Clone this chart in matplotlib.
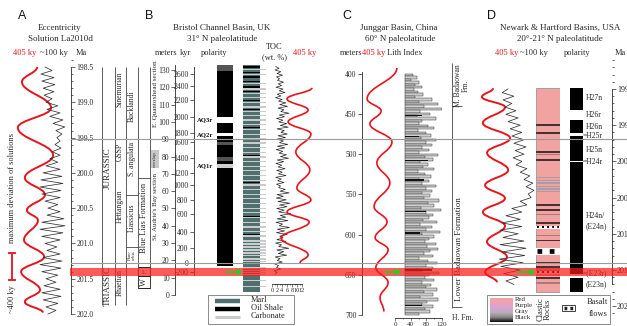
import matplotlib
matplotlib.use("Agg")
import matplotlib.pyplot as plt
import numpy as np
from matplotlib.path import Path
from matplotlib.patches import PathPatch, Rectangle
from matplotlib.colors import LinearSegmentedColormap
from matplotlib.ticker import MultipleLocator, FormatStrFormatter

W, H = 627, 326
SERIF = "Liberation Serif"
SANS = "Liberation Sans"
INK = "#2a2a2a"
RED = "#e8141c"
MARL = "#50706f"
CARB = "#c9cccc"
GREEN = "#1ed21e"

plt.rcParams["font.family"] = SERIF

# px -> value references for each panel's vertical scale
SCALE_A = (67, 198.5, 314, 202.0)
SCALE_B = (295, 0.0, 70, 130.0)
SCALE_C = (74, 400.0, 315, 700.0)
SCALE_D = (89, 199.0, 270, 201.5)

# ---------------- A: La2010d eccentricity ----------------
a_red_age = [198.50, 198.71, 199.08, 199.36, 199.75, 200.07, 200.31, 200.53,
             200.67, 200.95, 201.19, 201.40, 201.66, 201.83, 201.98]
a_red_ecc = [54, 17, 88, 7, 93, 24, 73, 29, 56, 22, 71, 15, 61, 24, 68]
a_blk_age = np.round(np.arange(198.5, 202.001, 0.05), 2)
a_blk_ecc = [22, 44, 9, 50, 12, 53, 16, 50, 19, 44, 25,
             62, 28, 69, 37, 78, 47, 84, 56, 75, 59,
             69, 53, 72, 44, 69, 37, 62, 25, 69, 16,
             75, 9, 78, 6, 72, 12, 69, 22, 62, 31,
             69, 28, 81, 12, 84, 6, 78, 12, 69, 22,
             59, 28, 69, 16, 75, 6, 72, 12, 62, 25,
             56, 19, 69, 12, 72, 16, 62, 25, 56, 31]

# ---------------- B: Bristol Channel Basin ----------------
b_kyr_ticks = [-200, 0, 200, 400, 600, 800, 1000, 1200, 1400, 1600, 1800,
               2000, 2200, 2400, 2600]
b_kyr_depth = [13.3, 18.5, 27.2, 36.4, 46.8, 54.9, 63.6, 70.5, 79.2, 88.4,
               93.6, 102.9, 112.7, 120.8, 127.7]
b_pol_top, b_pol_base = 133.0, 16.8
b_band_top = [133.0, 102.9, 93.6, 88.4, 79.8, 75.7]
b_band_base = [129.2, 99.4, 91.9, 86.7, 77.5, 73.4]
b_band_col = ["#555555", "white", "white", "#555555", "#555555", "#cfcfcf"]
b_aq_lbl = ["AQ3r", "AQ2r", "AQ1r"]
b_aq_depth = [101.2, 92.8, 74.6]
b_lith_top, b_lith_base = 133.0, 1.7
b_carb_m = [130.5, 127.5, 124.8, 122.0, 119.0, 116.5, 114.0, 111.2, 108.6,
            105.8, 103.5, 101.0, 98.3, 95.6, 93.0, 90.2, 87.8, 85.1, 82.5,
            79.6, 77.0, 74.3, 71.8, 69.0, 66.3, 63.5, 61.0, 58.2, 55.6, 52.9,
            50.1, 47.5, 44.8, 42.0, 39.3, 36.5, 34.0, 31.2, 29.5, 27.8, 26.0,
            24.4, 22.8, 21.0, 19.4, 15.5, 14.2, 13.0, 11.8, 8.5, 5.0]
b_carb_t = [0.6, 0.8, 0.5, 0.7, 0.9, 0.6, 0.8, 0.5, 0.9, 0.7, 0.6, 1.0, 0.7,
            0.8, 0.6, 0.9, 0.7, 0.8, 0.6, 1.0, 0.7, 0.9, 0.6, 0.8, 0.7, 0.9,
            0.6, 0.8, 0.7, 0.6, 0.9, 0.7, 0.8, 0.6, 0.9, 0.7, 0.8, 1.1, 1.0,
            1.2, 1.0, 1.1, 0.9, 1.2, 1.0, 0.8, 0.8, 0.8, 0.8, 0.7, 0.7]
b_shale_m = [131.8, 128.6, 126.0, 123.2, 120.2, 117.4, 112.5, 107.2, 97.0,
             89.0, 80.5, 65.0, 45.5, 34.8]
b_shale_t = [0.8, 0.7, 0.9, 0.6, 0.8, 0.6, 0.5, 0.6, 0.5, 0.5, 0.4, 0.5, 0.4, 0.4]
b_toc_depth = np.arange(132, 11, -1)
b_toc = [1.5, 2.8, 1.2, 3.5, 2.0, 4.2, 1.8, 3.0, 2.2, 4.6,
         2.5, 3.8, 1.6, 4.4, 2.9, 5.2, 2.1, 3.6, 1.4, 4.0,
         2.6, 5.5, 3.1, 6.2, 2.4, 4.8, 3.5, 6.8, 2.9, 5.0,
         1.8, 4.4, 2.7, 5.9, 3.3, 6.5, 2.0, 4.9, 3.6, 6.1,
         2.4, 5.4, 1.9, 4.6, 3.0, 6.3, 2.2, 5.1, 1.7, 4.3,
         2.8, 5.8, 3.4, 6.6, 2.1, 4.7, 1.6, 3.9, 2.5, 5.2,
         1.9, 4.1, 2.6, 5.6, 1.5, 3.7, 2.3, 4.8, 1.8, 3.4,
         2.7, 5.3, 3.2, 6.9, 2.0, 4.5, 1.7, 5.7, 2.4, 7.2,
         3.0, 6.0, 1.9, 4.9, 2.6, 7.5, 3.3, 5.5, 2.1, 6.4,
         1.6, 4.2, 2.9, 7.0, 2.2, 5.0, 1.8, 6.1, 3.1, 4.4,
         2.0, 5.6, 1.4, 3.8, 2.7, 6.7, 1.9, 4.7, 2.5, 5.9,
         1.3, 3.2, 2.1, 4.1, 1.0, 2.6, 1.8, 3.5, 0.9, 2.0,
         1.2]
b_red_m = [119.7, 113.3, 106.9, 100.0, 93.1, 82.7, 72.3, 61.8, 54.9, 48.0,
           42.2, 32.9, 23.1, 18.5]
b_red_val = [97, 26, 86, 29, 94, 51, 91, 54, 94, 26, 89, 9, 86, 63]

# ---------------- C: Junggar Basin ----------------
c_red_m = [392.5, 431.1, 446.0, 462.1, 484.5, 510.6, 535.4, 565.2, 583.9,
           603.7, 618.6, 641.0, 659.6, 678.3, 695.7]
c_red_val = [91, 6, 46, 14, 77, 34, 71, 26, 63, 29, 66, 31, 66, 43, 54]
c_lith_top = np.arange(400, 700, 3)
c_lith_idx = [45, 55, 40, 62, 50, 68, 48, 58, 72, 52,
              95, 60, 110, 75, 120, 65, 90, 55, 105, 70,
              62, 85, 100, 58, 78, 92, 66, 104, 80, 95,
              70, 88, 60, 110, 76, 98, 64, 84, 72, 100,
              58, 76, 92, 62, 86, 70, 105, 80, 95, 68,
              90, 74, 112, 84, 100, 66, 118, 78, 96, 88,
              72, 108, 64, 94, 80, 115, 70, 100, 86, 76,
              104, 82, 110, 90, 74, 98, 62, 84, 106, 78,
              96, 70, 112, 88, 76, 100, 68, 92, 80, 108,
              74, 96, 64, 110, 82, 70, 98, 76, 90, 60]
c_dark_m = [452, 478, 508, 532, 571, 598, 644, 688]
c_dark_idx = [70, 60, 85, 75, 80, 65, 95, 70]

# ---------------- D: Newark & Hartford ----------------
d_red_age = [198.99, 199.11, 199.25, 199.47, 199.68, 199.88, 200.12, 200.33,
             200.51, 200.70, 200.89, 201.11, 201.32, 201.53, 201.67]
d_red_val = [41, 6, 78, 9, 94, 22, 88, 16, 78, 9, 78, 22, 84, 16, 53]
d_blk_age = np.round(np.arange(199.0, 201.701, 0.05), 2)
d_blk_val = [31, 17, 45, 19, 40, 24,
             50, 26, 55, 31, 60,
             36, 64, 40, 69, 45,
             74, 48, 69, 43, 64,
             50, 76, 60, 83, 69,
             90, 74, 93, 79, 86,
             60, 76, 40, 64, 26,
             60, 17, 64, 12, 55,
             19, 69, 12, 74, 17,
             71, 10, 67, 14, 60,
             21, 55, 26, 45]
d_col_top, d_col_base = 198.99, 201.80
d_bed_ma = [199.50, 199.61, 199.70, 199.87, 199.91, 199.98, 200.22, 200.26,
            200.30, 200.34, 200.38, 200.42, 200.60, 200.67, 200.74, 200.85,
            201.02, 201.09, 201.40, 201.46, 201.51, 201.61, 201.68]
d_bed_th = [0.021, 0.021, 0.014, 0.028, 0.014, 0.028, 0.014, 0.014, 0.021,
            0.014, 0.021, 0.014, 0.021, 0.021, 0.014, 0.021, 0.014, 0.021,
            0.028, 0.021, 0.055, 0.021, 0.021]
d_bed_kind = ["k", "k", "m", "k", "m", "k", "g", "g", "g", "g", "g", "g",
              "k", "k", "m", "k", "m", "k", "k", "k", "g", "k", "m"]
d_bas_ma = [200.91, 201.24, 201.53]
d_bas_th = [0.04, 0.097, 0.04]
d_rev_top = [199.29, 199.61, 199.99, 201.555]
d_rev_base = [199.43, 199.65, 200.015, 201.61]
d_pol_lbl = ["H27n", "H26r", "H26n", "=H25r", "H25n", "=H24r", "H24n/",
             "(E24n)", "=(E23r)", "(E23n)"]
d_pol_lbl_ma = [199.12, 199.36, 199.52, 199.65, 199.84, 200.01, 200.75,
                200.89, 201.54, 201.69]
BED_COL = {"k": "#4a3030", "m": "#b07878", "g": "#a99ba7"}

fig = plt.figure(figsize=(W / 100, H / 100), dpi=100)


def strip(x0, x1, y0, y1, scale, xlim=(0, 1), off=True):
    ax = fig.add_axes([x0 / W, 1 - y1 / H, (x1 - x0) / W, (y1 - y0) / H])
    pa, va, pb, vb = scale
    f = lambda p: va + (p - pa) * (vb - va) / (pb - pa)
    ax.set_ylim(f(y1), f(y0))
    ax.set_xlim(*xlim)
    if off:
        ax.axis("off")
    else:
        ax.set_facecolor("none")
        for s in ax.spines.values():
            s.set_visible(False)
        ax.set_xticks([])
        ax.set_yticks([])
    return ax


def scale_axis(x, y0, y1, scale, side, bounds):
    if side == "left":
        ax = strip(x, x + 2, y0, y1, scale, off=False)
    else:
        ax = strip(x - 2, x, y0, y1, scale, off=False)
        ax.yaxis.tick_right()
    sp = ax.spines[side]
    sp.set_visible(True)
    sp.set_bounds(*bounds)
    sp.set_linewidth(0.6)
    sp.set_color(INK)
    ax.tick_params(axis="y", which="both", colors=INK, width=0.5, labelsize=5.5, pad=1)
    ax.tick_params(axis="y", which="major", length=3)
    ax.tick_params(axis="y", which="minor", length=1.5)
    return ax


def wave(ax, val, pos, color, lw):
    # smooth curve through the extrema
    verts = [(val[0], pos[0])]
    codes = [Path.MOVETO]
    for i in range(1, len(val)):
        d = (pos[i] - pos[i - 1]) * 0.4
        verts += [(val[i - 1], pos[i - 1] + d), (val[i], pos[i] - d), (val[i], pos[i])]
        codes += [Path.CURVE4] * 3
    ax.add_patch(PathPatch(Path(verts, codes), fill=False, ec=color, lw=lw, clip_on=False))


# canvas for the text and the stratigraphic tables
cv = fig.add_axes([0, 0, 1, 1])
cv.set_xlim(0, W)
cv.set_ylim(H, 0)
cv.axis("off")


def txt(x, y, s, size=6.0, color=INK, rot=0, family=SERIF, ha="center", **kw):
    cv.text(x, y, s, fontsize=size, color=color, rotation=rot, ha=ha, va="center",
            family=family, rotation_mode="anchor", **kw)


def line(xs, ys, color="#444", lw=0.6):
    cv.plot(xs, ys, color=color, lw=lw, solid_capstyle="butt")


# panel letters and titles
for x, s in [(22, "A"), (149, "B"), (347, "C"), (491, "D")]:
    txt(x, 16, s, size=9, color="#111", family=SANS)
txt(60, 28, "Eccentricity", 6.5)
txt(60, 39, "Solution La2010d", 6.5)
txt(25, 53, "405 ky", 6, RED)
txt(54, 53, "~100 ky", 6)
txt(81, 53, "Ma", 6)

txt(222, 28, "Bristol Channel Basin, UK", 6.5)
txt(222, 39, "31° N paleolatitude", 6.5)
txt(166, 53, "meters", 6)
txt(186, 53, "kyr", 6)
txt(214, 53, "polarity", 6)
txt(274, 47, "TOC", 6)
txt(275, 57, "(wt. %)", 6)
txt(305, 53, "405 ky", 6, RED)

txt(399, 28, "Junggar Basin, China", 6.5)
txt(400, 39, "60° N paleolatitude", 6.5)
txt(351, 53, "meters", 6)
txt(374, 53, "405 ky", 6, RED)
txt(405, 53, "Lith Index", 6)

txt(560, 28, "Newark & Hartford Basins, USA", 6.5)
txt(560, 39, "20°-21° N paleolatitude", 6.5)
txt(507, 53, "405 ky", 6, RED)
txt(534, 53, "~100 ky", 6)
txt(577, 53, "polarity", 6)
txt(620, 53, "Ma", 6)

# A: side notes
txt(12, 188, "maximum deviation of solutions", 6, rot=90)
line([12, 12], [253, 280], RED, 1.3)
line([8, 16], [253, 253], RED, 1.3)
line([8, 16], [280, 280], RED, 1.3)
txt(12, 299, "~400 ky", 6, rot=90)

# A: chronostratigraphic table
for x, y1 in [(102, 305), (115, 305), (126, 305), (138, 288), (150, 288)]:
    line([x, x], [67, y1])
line([126, 138], [195, 195])
line([126, 138], [247, 247])
line([138, 150], [178, 178])
line([102, 150], [263, 263])
cv.add_patch(Rectangle((138, 267), 12, 9, fill=False, ec="#222", lw=0.7))
cv.add_patch(Rectangle((138, 276), 12, 12, fill=False, ec="#222", lw=0.7))
txt(108, 168, "JURASSIC", 6.5, rot=90)
txt(108, 286, "TRIASSIC", 6.5, rot=90)
txt(120, 89, "Sinemurian", 5.5, rot=90)
txt(120, 152, "GSSP", 5.5, rot=90)
txt(120, 206, "Hettangian", 5.5, rot=90)
txt(120, 282, "Rhaetian", 5.5, rot=90)
txt(132, 106, "Bucklandi", 5.5, rot=90)
txt(132, 159, "S. angulata", 5.5, rot=90)
txt(132, 218, "Liassicus", 5.5, rot=90)
txt(132, 255, "Plan-\norbis", 3.5, rot=90, linespacing=0.9)
txt(144, 218, "Blue Lias Formation", 6, rot=90)
txt(144, 272, "L", 5)
txt(144, 282, "W", 6, rot=90)
txt(155, 94, "E. Quantoxhead section", 5, rot=90)
cv.add_patch(Rectangle((151, 150), 8, 18, color="#c8c8c8", lw=0))
txt(155, 159, "overlap", 3.8, rot=90)
txt(155, 206, "St. Audrie's Bay section", 5, rot=90)

# A: curves and Ma axis
ax = strip(15, 56, 55, 320, SCALE_A, (0, 100))
wave(ax, a_red_ecc, a_red_age, RED, 1.4)
ax = strip(38, 70, 55, 320, SCALE_A, (0, 100))
ax.plot(a_blk_ecc, a_blk_age, color="#333", lw=0.55, clip_on=False)
ax = scale_axis(71, 55, 320, SCALE_A, "right", (198.5, 202.0))
ax.yaxis.set_major_locator(MultipleLocator(0.5))
ax.yaxis.set_minor_locator(MultipleLocator(0.1))
ax.yaxis.set_major_formatter(FormatStrFormatter("%.1f"))

# B: meters and kyr axes
ax = scale_axis(175, 55, 300, SCALE_B, "left", (0, 133))
ax.yaxis.set_major_locator(MultipleLocator(10))
ax.yaxis.set_major_formatter(FormatStrFormatter("%d"))
ax = scale_axis(194, 55, 300, SCALE_B, "left", (11.6, 131.8))
ax.set_yticks(b_kyr_depth, labels=[str(k) for k in b_kyr_ticks])

# B: polarity
ax = strip(217, 233, 55, 300, SCALE_B)
ax.axhspan(b_pol_base, b_pol_top, color="black", lw=0)
for t, b, c in zip(b_band_top, b_band_base, b_band_col):
    ax.axhspan(b, t, color=c, lw=0)
for lbl, m in zip(b_aq_lbl, b_aq_depth):
    ax.text(-0.25, m, lbl, fontsize=4.8, fontweight="bold", ha="right", va="center", color="#111")

# B: lithology
ax = strip(243, 268, 55, 300, SCALE_B)
ax.barh((b_lith_top + b_lith_base) / 2, 0.68, height=b_lith_top - b_lith_base, left=0, color=MARL, lw=0)
ax.barh(b_carb_m, 0.9, height=b_carb_t, left=0, color=CARB, lw=0)
ax.barh(b_shale_m, 0.68, height=b_shale_t, left=0, color="black", lw=0)

# B: TOC
ax = strip(272, 302, 60, 284, SCALE_B, (0, 12), off=False)
ax.plot(b_toc, b_toc_depth, color="#222", lw=0.5)
ax.spines["bottom"].set_visible(True)
ax.spines["bottom"].set_linewidth(0.5)
ax.set_xticks(range(0, 13, 2))
ax.xaxis.set_minor_locator(MultipleLocator(1))
ax.tick_params(axis="x", which="both", labelsize=4.5, pad=1, width=0.4, colors=INK)
ax.tick_params(axis="x", which="major", length=2)
ax.tick_params(axis="x", which="minor", length=1)

# B: 405 ky curve
ax = strip(278, 313, 55, 300, SCALE_B, (0, 100))
wave(ax, b_red_val, b_red_m, RED, 1.2)

# B: legend
cv.add_patch(Rectangle((208, 295), 86, 29, fill=False, ec="#777", lw=0.6))
line([215, 240], [300.5, 300.5], MARL, 3.2)
line([215, 240], [308.5, 308.5], "black", 3.2)
line([215, 240], [316.5, 316.5], CARB, 2.2)
txt(251, 300, "Marl", 6, ha="left")
txt(251, 308, "Oil Shale", 6, ha="left")
txt(251, 316.5, "Carbonate", 6, ha="left")

# C: depth axis, 405 ky curve, lith index
ax = scale_axis(362, 60, 320, SCALE_C, "left", (398, 700))
ax.yaxis.set_major_locator(MultipleLocator(50))
ax.yaxis.set_major_formatter(FormatStrFormatter("%d"))
ax = strip(365, 400, 55, 320, SCALE_C, (0, 100))
wave(ax, c_red_val, c_red_m, RED, 1.2)
ax = strip(395, 442, 60, 318, SCALE_C, (0, 120), off=False)
ax.barh(c_lith_top, np.array(c_lith_idx) - 25, height=3, left=25, align="edge",
        color="#cfcfcf", edgecolor="#333", linewidth=0.35)
ax.barh(c_dark_m, np.array(c_dark_idx) - 25, height=1.6, left=25, color="#111", lw=0)
ax.spines["bottom"].set_visible(True)
ax.spines["bottom"].set_linewidth(0.5)
ax.set_xticks([0, 40, 80, 120])
ax.xaxis.set_minor_locator(MultipleLocator(20))
ax.tick_params(axis="x", which="both", labelsize=5, pad=1, width=0.4, colors=INK)
ax.tick_params(axis="x", which="major", length=2)
ax.tick_params(axis="x", which="minor", length=1)

# C: formations
line([452, 452], [63, 308])
line([452, 462], [106, 106])
line([452, 462], [307, 307])
txt(462, 86, "M. Badaowan\nFm.", 5.5, rot=90, linespacing=1.0)
txt(459, 249, "Lower Badaowan Formation", 6.5, rot=90)
txt(463, 318, "H. Fm.", 5.5)

# D: curves
ax = strip(480, 512, 60, 300, SCALE_D, (0, 100))
wave(ax, d_red_val, d_red_age, RED, 1.4)
ax = strip(495, 537, 60, 300, SCALE_D, (0, 100))
ax.plot(d_blk_val, d_blk_age, color="#333", lw=0.55, clip_on=False)

# D: lithology column
ax = strip(536, 560, 60, 300, SCALE_D)
ax.barh((d_col_top + d_col_base) / 2, 1, height=d_col_base - d_col_top, left=0,
        color="#f0a3a0", edgecolor="#8a8a8a", lw=0.5)
for m, t, k in zip(d_bed_ma, d_bed_th, d_bed_kind):
    ax.axhspan(m - t / 2, m + t / 2, xmin=0.02, xmax=0.98, color=BED_COL[k], lw=0)
for m, t in zip(d_bas_ma, d_bas_th):
    ax.axhspan(m - t / 2, m + t / 2, xmin=0.02, xmax=0.98, color="white", lw=0)
    ax.hlines(m, 0.06, 0.94, color="black", lw=t * 35, linestyles=(0, (1.0, 1.6)))

# D: polarity column and labels
ax = strip(570, 583, 60, 300, SCALE_D)
ax.axhspan(d_col_base, d_col_top, color="black", lw=0)
for t, b in zip(d_rev_top, d_rev_base):
    ax.axhspan(b, t, color="white", lw=0)
for lbl, m in zip(d_pol_lbl, d_pol_lbl_ma):
    ax.text(1.0 if lbl.startswith("=") else 1.2, m, lbl, fontsize=5.5, ha="left", va="center", color=INK)

# D: Ma axis (labels run off the right edge as in the source)
ax = scale_axis(612, 60, 320, SCALE_D, "right", (199.0, 201.7))
ax.yaxis.set_major_locator(MultipleLocator(0.5))
ax.yaxis.set_minor_locator(MultipleLocator(0.1))
ax.yaxis.set_major_formatter(FormatStrFormatter("%.1f"))
ax.tick_params(axis="y", labelsize=5.8, pad=0.5)

# D: legend
cv.add_patch(Rectangle((487, 295), 123, 29, fill=False, ec="#777", lw=0.6))
lg = fig.add_axes([490 / W, 1 - 322 / H, 23 / W, 24 / H])
grad = LinearSegmentedColormap.from_list(
    "clastic", ["#f2a3a3", "#f0a2b4", "#d9a3d8", "#b8b0b8", "#8a8a8a", "#101010"])
lg.imshow(np.linspace(0, 1, 60)[:, None], cmap=grad, aspect="auto")
lg.axis("off")
for i, s in enumerate(["Red", "Purple", "Gray", "Black"]):
    txt(515, 299.5 + 6.1 * i, s, 5, ha="left")
txt(544, 309, "Clastic\nRocks", 6, rot=90, linespacing=0.95)
cv.add_patch(Rectangle((562, 305), 13, 6, facecolor="white", ec="#222", lw=0.6))
cv.plot([563.5, 574], [308, 308], color="#222", lw=2.5, linestyle=(0, (0.8, 0.9)))
txt(597, 302, "Basalt", 6)
txt(598, 313.5, "flows", 6)

# overlay: correlation lines, boundary band, arrows
ov = fig.add_axes([0, 0, 1, 1])
ov.set_xlim(0, W)
ov.set_ylim(H, 0)
ov.axis("off")
for y in (139, 263):
    ov.plot([71, W], [y, y], color="#9a9a9a", lw=0.8)
ov.fill_between([70, W], 268, 275.5, color="#ff1a1a", alpha=0.72, lw=0)
for x0, x1 in [(226, 243), (385, 402), (517, 536)]:
    ov.annotate("", xy=(x1, 272), xytext=(x0, 272),
                arrowprops=dict(arrowstyle="-|>", color=GREEN, lw=1.3, mutation_scale=7,
                                shrinkA=0, shrinkB=0))

plt.savefig("out.png", dpi=100)
